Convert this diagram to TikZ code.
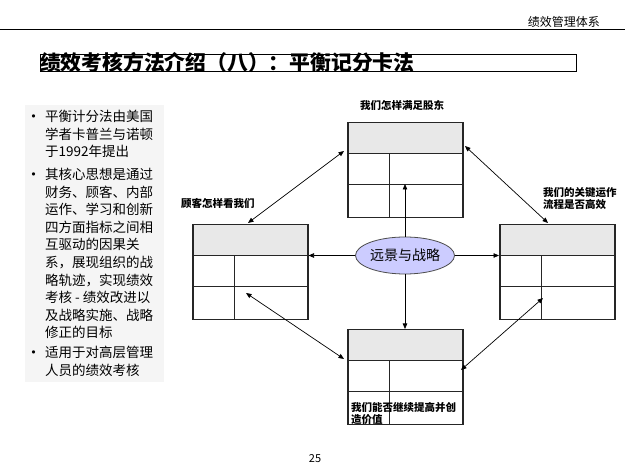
\documentclass[tikz,border=0pt]{standalone}
\usepackage{fontspec}
\newfontfamily\cjk{Noto Sans CJK SC}
\newfontfamily\dvs{DejaVu Sans}
\usetikzlibrary{arrows.meta,calc,shapes.geometric}
\definecolor{hdrgray}{RGB}{232,232,232}
\definecolor{panelgray}{RGB}{245,245,245}
\definecolor{lav}{RGB}{204,204,255}
\newcommand{\bsbul}{\llap{{\dvs\fontsize{11}{11}\selectfont\raisebox{0.6pt}{•}}\hspace{8.3pt}}}
\begin{document}
\begin{tikzpicture}[x=1pt,y=-1pt,font=\cjk,
  every node/.style={inner sep=0pt},
  card/.style={draw=black!85, line width=1.5pt, fill=white,
    minimum width=115pt, minimum height=95pt, anchor=north west,
    path picture={
      \fill[hdrgray] (path picture bounding box.north west) rectangle ([yshift=-31pt]path picture bounding box.north east);
      \draw[line width=0.8pt] ([yshift=-31pt]path picture bounding box.north west) -- ([yshift=-31pt]path picture bounding box.north east);
      \draw[line width=0.8pt] ([yshift=-62pt]path picture bounding box.north west) -- ([yshift=-62pt]path picture bounding box.north east);
      \draw[line width=0.8pt] ([xshift=42pt,yshift=-31pt]path picture bounding box.north west) -- ([xshift=42pt]path picture bounding box.south west);
    }},
  tip/.tip={Triangle[length=5.5pt,width=4.5pt]},
  con/.style={line width=0.7pt, tip-tip},
  one/.style={line width=0.7pt, -tip},
  lbl/.style={font=\cjk\bfseries\fontsize{10.5}{12}\selectfont, anchor=west, align=left},
  ptext/.style={font=\cjk\fontsize{13.5}{17.6}\selectfont, anchor=north west, align=left}
]
\useasboundingbox[fill=white] (0,0) rectangle (625,465);

% header
\draw[line width=1.2pt] (0,29.3) -- (625,29.3);
\node[anchor=east, font=\cjk\fontsize{12}{14}\selectfont] (hdr) at (600,22) {绩效管理体系};

% title
\draw[line width=0.8pt] (40,54) rectangle (576,71);
\node[anchor=west, font=\cjk\bfseries\fontsize{20.8}{22}\selectfont] (title) at (40,62.5) {绩效考核方法介绍（八）：平衡记分卡法};

% left panel
\fill[panelgray] (25,105) rectangle (164,382);
\node[ptext] (t1) at (45,110) {\bsbul 平衡计分法由美国\\学者卡普兰与诺顿\\于1992年提出};
\node[ptext] (t2) at (45,168) {\bsbul 其核心思想是通过\\财务、顾客、内部\\运作、学习和创新\\四方面指标之间相\\互驱动的因果关\\系，展现组织的战\\略轨迹，实现绩效\\考核 - 绩效改进以\\及战略实施、战略\\修正的目标};
\node[ptext] (t3) at (45,346) {\bsbul 适用于对高层管理\\人员的绩效考核};

% cards
\node[card] (T) at (347,122) {};
\node[card] (L) at (192,224) {};
\node[card] (R) at (499,224) {};
\node[card] (B) at (347,329) {};

% center
\node[ellipse, draw=black!70, line width=0.8pt, fill=lav, minimum width=96pt, minimum height=37pt,
  font=\cjk\fontsize{14}{16}\selectfont] (E) at (405,255.5) {远景与战略};

\coordinate (Tup) at ([yshift=-62pt]T.north);
\draw[one] (E.west) -- (E.west -| L.east);
\draw[one] (E.east) -- (E.east -| R.west);
\draw[one] (E.north) -- (E.north |- Tup);
\draw[one] (E.south) -- (E.south |- B.north);

% cycle arrows
\coordinate (d1a) at (248,223); \coordinate (d1b) at (344,151);
\coordinate (d2a) at (465,146); \coordinate (d2b) at (548,223);
\coordinate (d3a) at (543,298); \coordinate (d3b) at (461,370);
\coordinate (d4a) at (344,359); \coordinate (d4b) at (246,293);
\draw[con] (d1a) -- (d1b);
\draw[con] (d2a) -- (d2b);
\draw[con] (d3a) -- (d3b);
\draw[con] (d4a) -- (d4b);

% labels
\node[lbl] (lt) at (360,105) {我们怎样满足股东};
\node[lbl] (ll) at (181,203) {顾客怎样看我们};
\node[lbl, font=\cjk\bfseries\fontsize{10.5}{12}\selectfont] (lr) at (543,199) {我们的关键运作\\流程是否高效};
\node[lbl, font=\cjk\bfseries\fontsize{10.5}{11.5}\selectfont] (lb) at (351,413.5) {我们能否继续提高并创\\造价值};

% page number
\node[font=\cjk\fontsize{11}{13}\selectfont] (pg) at (315,459) {25};
\end{tikzpicture}
\end{document}
